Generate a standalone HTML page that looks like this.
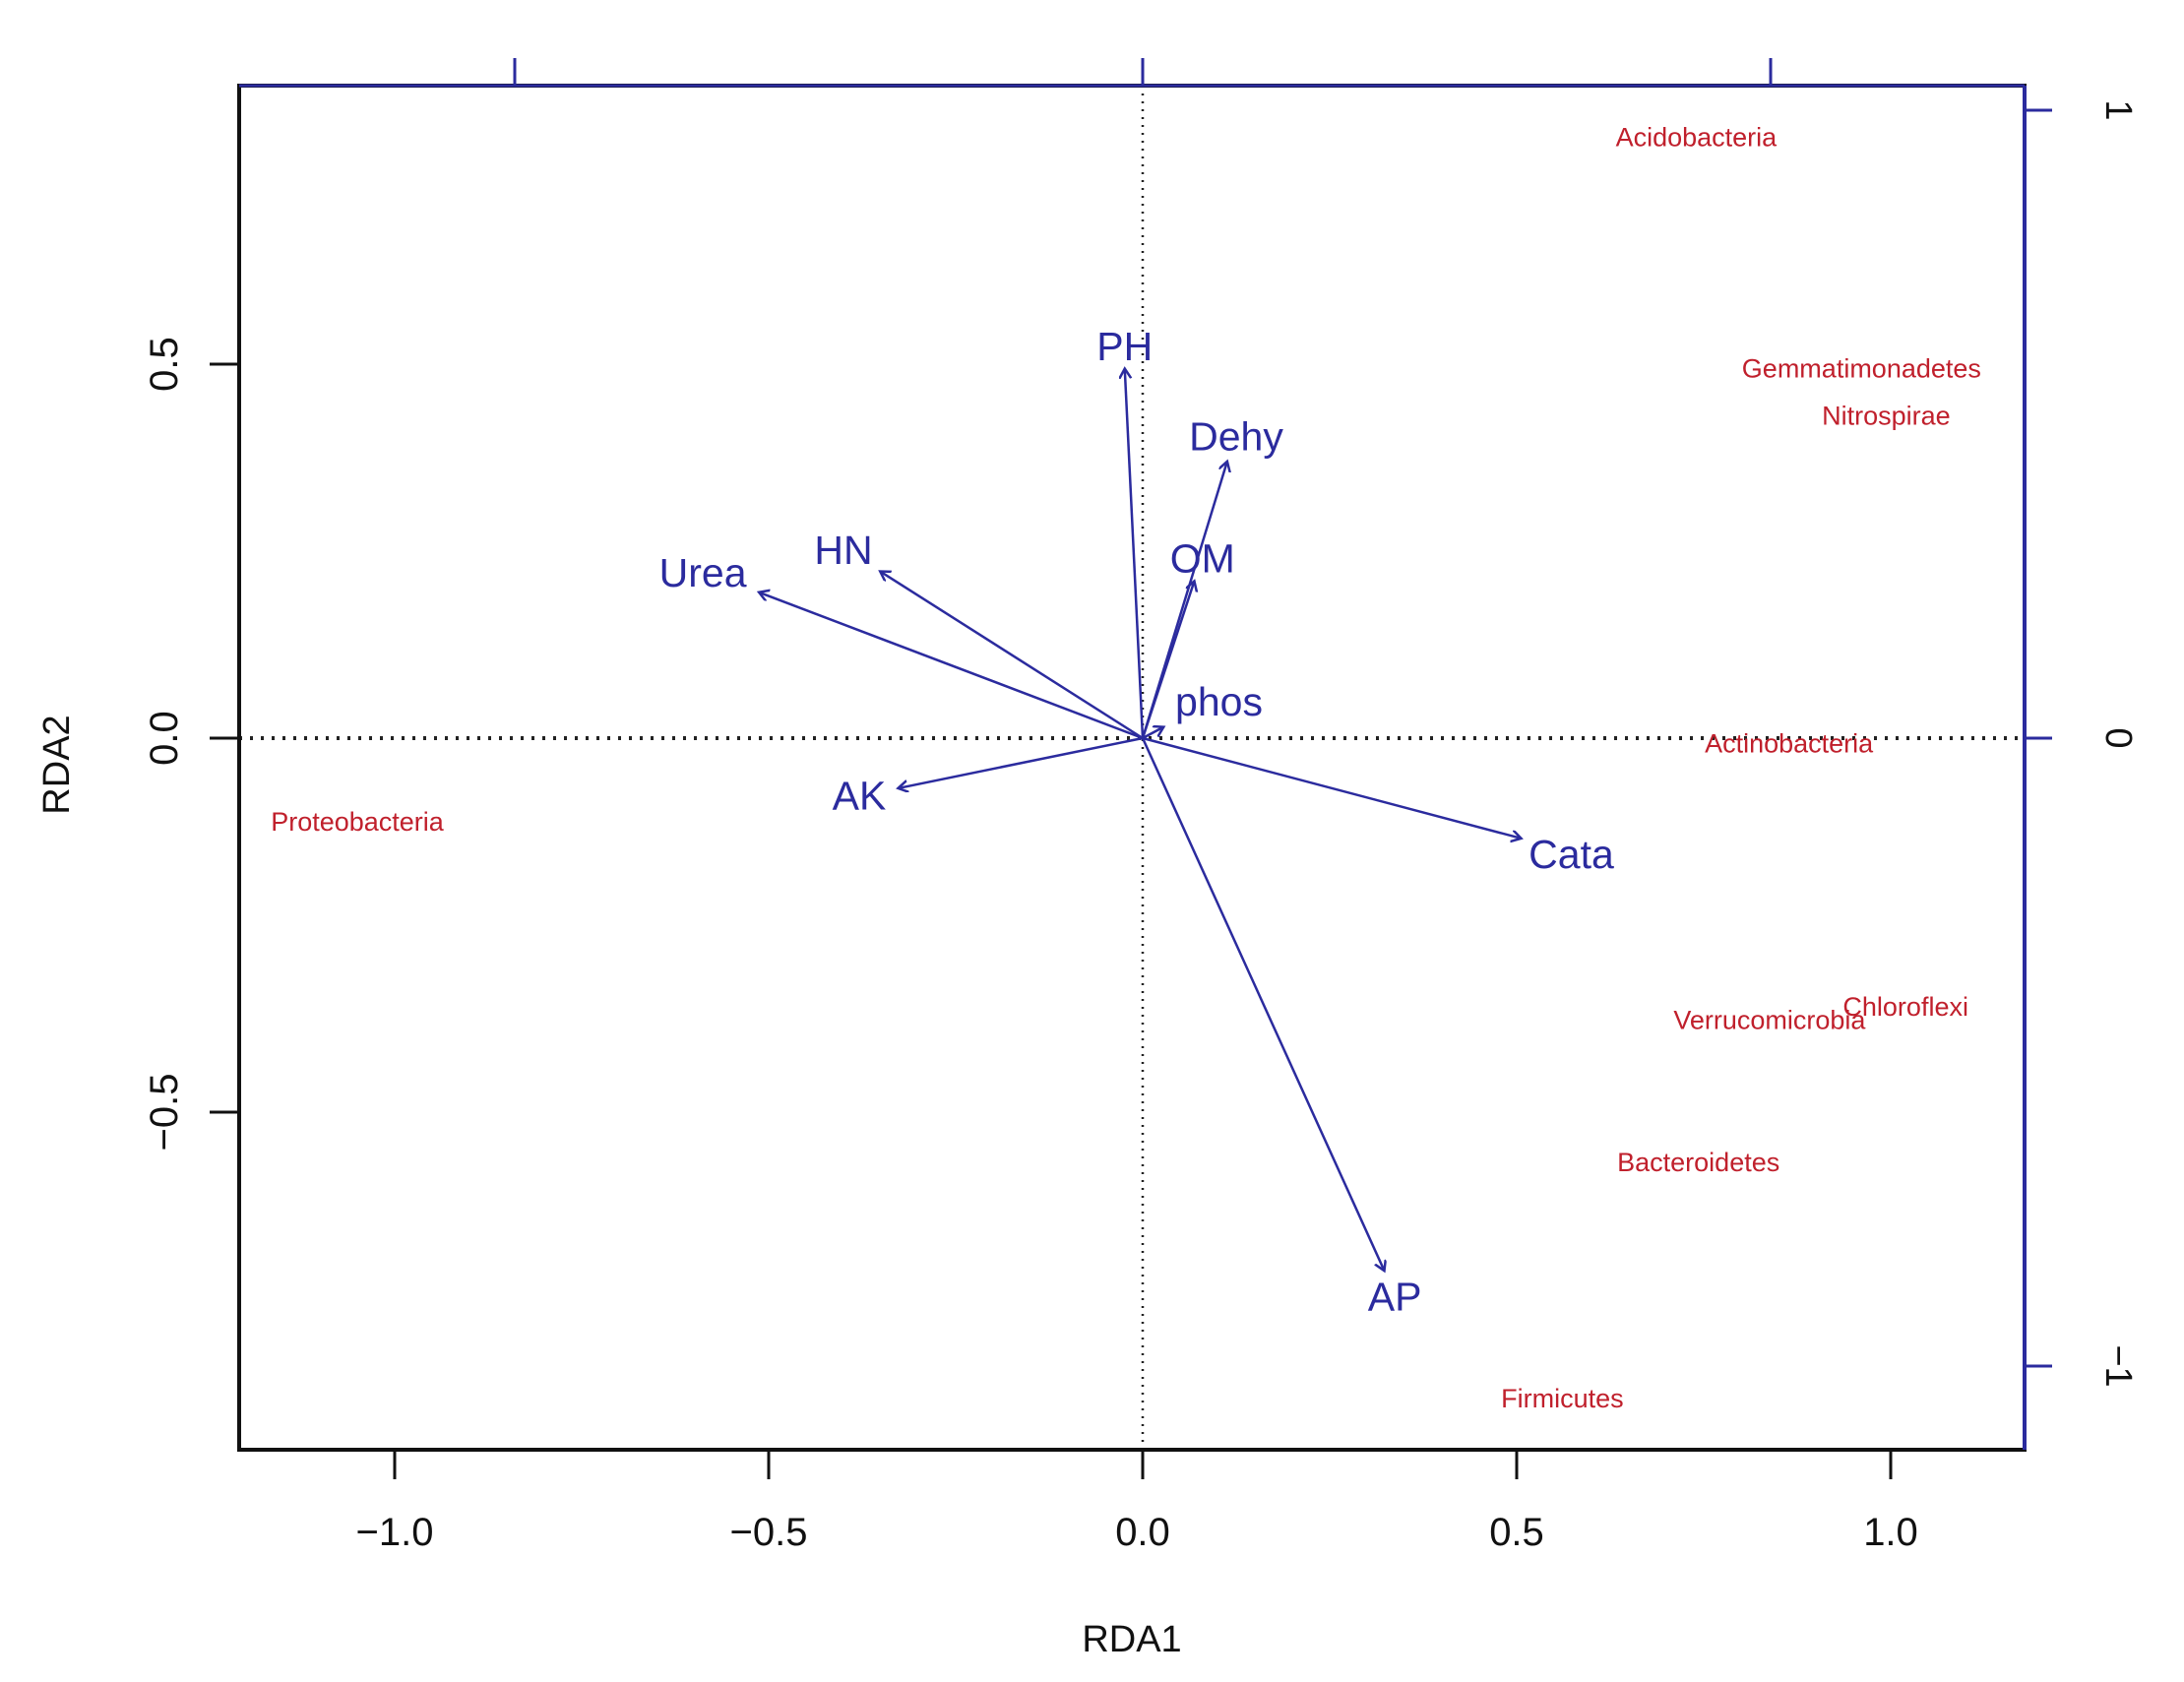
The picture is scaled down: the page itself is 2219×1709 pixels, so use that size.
<!DOCTYPE html>
<html><head><meta charset="utf-8"><style>
html,body{margin:0;padding:0;background:#fff;}
svg{display:block;font-family:"Liberation Sans",Arial,sans-serif;}
</style></head><body>
<svg id="chart" width="2219" height="1709" viewBox="0 0 2219 1709" xmlns="http://www.w3.org/2000/svg">
<defs>
<marker id="ah" markerWidth="20" markerHeight="20" refX="10" refY="6" orient="auto" markerUnits="userSpaceOnUse">
<path d="M0,0 L10,6 L0,12" fill="none" stroke="#2b2b9e" stroke-width="2.5"/>
</marker>
</defs>
<g id="plot"></g>
</svg>
<script>
// Environmental vectors (RDA1, RDA2)
const envNames = ["PH","Dehy","OM","phos","Urea","HN","AK","Cata","AP"];
const envX = [-0.024, 0.113, 0.069, 0.028, -0.513, -0.351, -0.327, 0.506, 0.323];
const envY = [0.494, 0.370, 0.210, 0.015, 0.195, 0.223, -0.067, -0.134, -0.712];
const envLabelX = [-0.024, 0.125, 0.080, 0.102, -0.588, -0.400, -0.379, 0.573, 0.337];
const envLabelY = [0.524, 0.403, 0.240, 0.049, 0.221, 0.251, -0.077, -0.155, -0.747];
// Species scores
const spNames = ["Acidobacteria","Gemmatimonadetes","Nitrospirae","Actinobacteria","Proteobacteria","Chloroflexi","Verrucomicrobia","Bacteroidetes","Firmicutes"];
const spX = [0.740, 0.961, 0.994, 0.864, -1.050, 1.020, 0.838, 0.743, 0.561];
const spY = [0.803, 0.494, 0.431, -0.007, -0.112, -0.359, -0.377, -0.567, -0.883];
// Ticks
const xTicks = [-1.0, -0.5, 0.0, 0.5, 1.0];
const xTickLabels = ["\u22121.0","\u22120.5","0.0","0.5","1.0"];
const yTicks = [-0.5, 0.0, 0.5];
const yTickLabels = ["\u22120.5","0.0","0.5"];
const topTicks = [-1, 0, 1];
const rightTicks = [-1, 0, 1];
const rightTickLabels = ["\u22121","0","1"];

const L=243,R=2057,T=87,B=1473, X0=1161, Y0=750, S=760, S2=638;
const sx=v=>X0+v*S, sy=v=>Y0-v*S;
const tx=v=>X0+v*S2, ty=v=>Y0-v*S2;
const NS="http://www.w3.org/2000/svg";
const g=document.getElementById('plot');
function mk(tag,attrs,parent){const e=document.createElementNS(NS,tag);for(const k in attrs)e.setAttribute(k,attrs[k]);(parent||g).appendChild(e);return e;}
const blue="#2b2b9e", red="#c0202c";

let e;
e=mk('line',{x1:X0,y1:T,x2:X0,y2:B,stroke:"#222","stroke-width":2.5,"stroke-dasharray":"2 6"});


e=mk('line',{x1:L,y1:Y0,x2:R,y2:Y0,stroke:"#222","stroke-width":4,"stroke-dasharray":"3 8"});



e=mk('rect',{x:L,y:T,width:R-L,height:B-T,fill:"none",stroke:"#111","stroke-width":4});


// blue top/right axes
e=mk('line',{x1:L,y1:T,x2:R,y2:T,stroke:blue,"stroke-width":3});


e=mk('line',{x1:R,y1:T,x2:R,y2:B,stroke:blue,"stroke-width":4});


topTicks.forEach(v=>{e=mk('line',{x1:tx(v),y1:T,x2:tx(v),y2:T-28,stroke:blue,"stroke-width":3});

});
rightTicks.forEach((v,i)=>{e=mk('line',{x1:R,y1:ty(v),x2:R+28,y2:ty(v),stroke:blue,"stroke-width":3});


e=mk('text',{x:2150,y:ty(v),"font-size":38,fill:"#111","text-anchor":"middle",transform:`rotate(90 2150 ${ty(v)})`,"dominant-baseline":"middle"});
e.textContent=rightTickLabels[i];

});

xTicks.forEach((v,i)=>{e=mk('line',{x1:sx(v),y1:B,x2:sx(v),y2:B+30,stroke:"#111","stroke-width":3});


e=mk('text',{x:sx(v),y:1570,"font-size":40,fill:"#111","text-anchor":"middle"});
e.textContent=xTickLabels[i];

});
yTicks.forEach((v,i)=>{e=mk('line',{x1:L,y1:sy(v),x2:L-30,y2:sy(v),stroke:"#111","stroke-width":3});


e=mk('text',{x:180,y:sy(v),"font-size":40,fill:"#111","text-anchor":"middle",transform:`rotate(-90 180 ${sy(v)})`});
e.textContent=yTickLabels[i];

});

e=mk('text',{x:1150,y:1678,"font-size":38,fill:"#111","text-anchor":"middle"});e.textContent="RDA1";


e=mk('text',{x:70,y:777,"font-size":38,fill:"#111","text-anchor":"middle",transform:"rotate(-90 70 777)"});e.textContent="RDA2";



envNames.forEach((n,i)=>{
 e=mk('line',{x1:sx(0),y1:sy(0),x2:sx(envX[i]),y2:sy(envY[i]),stroke:blue,"stroke-width":2.5,"marker-end":"url(#ah)"});
 
 
 e=mk('text',{x:sx(envLabelX[i]),y:sy(envLabelY[i]),"font-size":41,fill:blue,"text-anchor":"middle","dominant-baseline":"central"});
 e.textContent=n;
 
 
});
spNames.forEach((n,i)=>{
 e=mk('text',{x:sx(spX[i]),y:sy(spY[i]),"font-size":27,fill:red,"text-anchor":"middle","dominant-baseline":"central"});
 e.textContent=n;
 
 
});
</script>
</body></html>
